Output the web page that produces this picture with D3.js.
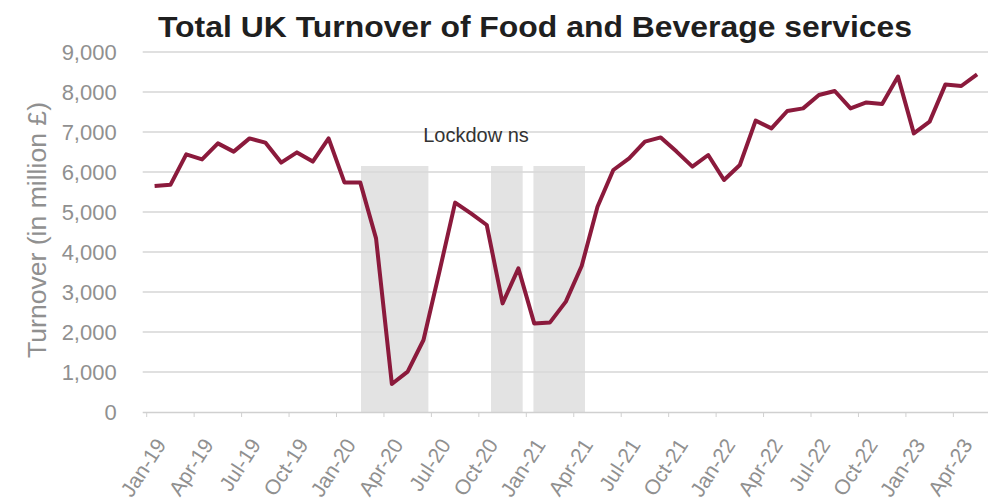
<!DOCTYPE html>
<html>
<head>
<meta charset="utf-8">
<script src="https://cdn.jsdelivr.net/npm/d3@7"></script>
<style>
  html, body { margin: 0; padding: 0; background: #ffffff; }
  svg { display: block; }
  text { font-family: "Liberation Sans", Arial, sans-serif; }
</style>
</head>
<body>
<svg id="chart" width="997" height="504"></svg>
<script>
// Monthly categories, Jan 2019 – May 2023
const months = [
  "Jan-19","Feb-19","Mar-19","Apr-19","May-19","Jun-19","Jul-19","Aug-19","Sep-19","Oct-19","Nov-19","Dec-19",
  "Jan-20","Feb-20","Mar-20","Apr-20","May-20","Jun-20","Jul-20","Aug-20","Sep-20","Oct-20","Nov-20","Dec-20",
  "Jan-21","Feb-21","Mar-21","Apr-21","May-21","Jun-21","Jul-21","Aug-21","Sep-21","Oct-21","Nov-21","Dec-21",
  "Jan-22","Feb-22","Mar-22","Apr-22","May-22","Jun-22","Jul-22","Aug-22","Sep-22","Oct-22","Nov-22","Dec-22",
  "Jan-23","Feb-23","Mar-23","Apr-23","May-23"
];

// Turnover, £ million
const turnover = [
  5650, 5680, 6440, 6315, 6715, 6510, 6840, 6735, 6235, 6490, 6260, 6840,
  5740, 5740, 4340,  700, 1010, 1800, 3500, 5235, 4965, 4675, 2715, 3590,
  2215, 2240, 2760, 3650, 5130, 6050, 6340, 6760, 6865, 6510, 6135, 6425,
  5800, 6175, 7285, 7090, 7525, 7590, 7925, 8025, 7590, 7740, 7700, 8385,
  6965, 7260, 8190, 8150, 8440
];

// Labelled categories on the x axis
const xTickLabels = [
  "Jan-19","Apr-19","Jul-19","Oct-19","Jan-20","Apr-20","Jul-20","Oct-20","Jan-21",
  "Apr-21","Jul-21","Oct-21","Jan-22","Apr-22","Jul-22","Oct-22","Jan-23","Apr-23"
];

// Y axis ticks
const yTicks = [0, 1000, 2000, 3000, 4000, 5000, 6000, 7000, 8000, 9000];

// Lockdown periods, in months from the start of Jan-19
const lockdownFrom = [13.55, 21.77, 24.45];
const lockdownTo   = [17.81, 23.77, 27.71];
const lockdownHeight = 6150;

const title = "Total UK Turnover of Food and Beverage services";
const yTitle = "Turnover (in million £)";
const lockdownLabel = "Lockdow ns";

const svg = d3.select("#chart");
const plotLeft = 146.7, plotRight = 985, plotTop = 52, plotBottom = 412;

const x = d3.scaleBand().domain(months).range([plotLeft, plotRight]).padding(0);
const xm = d3.scaleLinear().domain([0, months.length]).range([plotLeft, plotRight]);
const y = d3.scaleLinear().domain([0, 9000]).range([plotBottom, plotTop]);
const bw = x.bandwidth();

// Title
svg.append("text")
  .attr("x", 535).attr("y", 37)
  .attr("text-anchor", "middle")
  .attr("font-size", 30).attr("font-weight", "bold")
  .attr("fill", "#1f1f1f")
  .attr("textLength", 754).attr("lengthAdjust", "spacingAndGlyphs")
  .text(title);

// Horizontal gridlines
svg.append("g").selectAll("line")
  .data(yTicks.filter(d => d > 0))
  .join("line")
  .attr("x1", plotLeft - 4).attr("x2", plotRight + 3)
  .attr("y1", d => y(d)).attr("y2", d => y(d))
  .attr("stroke", "#e0e0e0").attr("stroke-width", 2);

// Lockdown shading
svg.append("g").selectAll("rect")
  .data(lockdownFrom.map((f, i) => ({ from: f, to: lockdownTo[i] })))
  .join("rect")
  .attr("x", d => xm(d.from))
  .attr("width", d => xm(d.to) - xm(d.from))
  .attr("y", y(lockdownHeight))
  .attr("height", y(0) - y(lockdownHeight))
  .attr("fill", "#d9d9d9").attr("fill-opacity", 0.75);

svg.append("text")
  .attr("x", 476).attr("y", 141.5)
  .attr("text-anchor", "middle")
  .attr("font-size", 20)
  .attr("fill", "#333333")
  .text(lockdownLabel);

// Y axis labels
const yAxis = svg.append("g")
  .attr("transform", `translate(${plotLeft - 4},0)`)
  .call(d3.axisLeft(y).tickValues(yTicks).tickSize(0).tickPadding(26)
    .tickFormat(d3.format(",")));
yAxis.select(".domain").remove();
yAxis.selectAll("text")
  .attr("font-size", 22).attr("fill", "#909090")
  .attr("font-family", "'Liberation Sans', Arial, sans-serif");

// Y axis title
svg.append("text")
  .attr("transform", `translate(46,230) rotate(-90)`)
  .attr("text-anchor", "middle")
  .attr("font-size", 25)
  .attr("fill", "#909090")
  .attr("textLength", 256).attr("lengthAdjust", "spacingAndGlyphs")
  .text(yTitle);

// X axis
const xAxis = svg.append("g")
  .attr("transform", `translate(0,${plotBottom})`)
  .call(d3.axisBottom(x).tickValues(xTickLabels).tickSizeOuter(0).tickSize(5).tickPadding(0));
xAxis.select(".domain")
  .attr("d", `M${plotLeft - 4},0.5H${plotRight + 3}`)
  .attr("stroke", "#d0d0d0").attr("stroke-width", 1.5);
xAxis.selectAll(".tick line")
  .attr("x1", -bw / 2).attr("x2", -bw / 2)
  .attr("stroke", "#d0d0d0");
xAxis.selectAll(".tick text")
  .attr("font-size", 21).attr("fill", "#909090")
  .attr("font-family", "'Liberation Sans', Arial, sans-serif")
  .attr("text-anchor", "end")
  .attr("dy", 0)
  .attr("transform", "translate(8,30) rotate(-57)");

// Turnover line
const line = d3.line()
  .x((d, i) => x(months[i]) + bw / 2)
  .y(d => y(d));

svg.append("path")
  .datum(turnover)
  .attr("d", line)
  .attr("fill", "none")
  .attr("stroke", "#8b1a3c")
  .attr("stroke-width", 4)
  .attr("stroke-linejoin", "round");
</script>
</body>
</html>
